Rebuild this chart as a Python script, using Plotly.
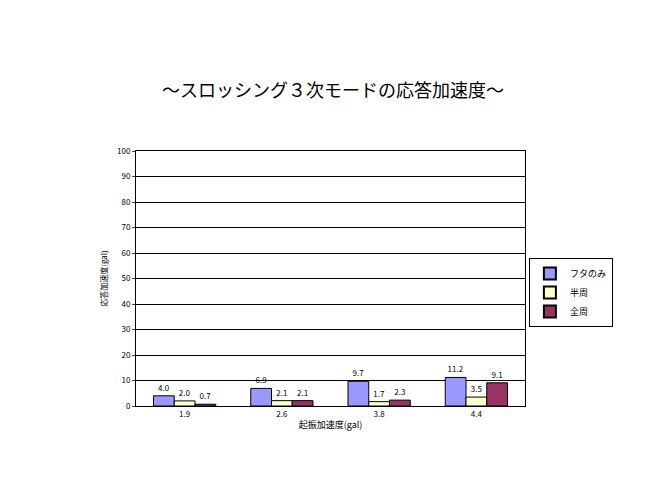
import plotly.graph_objects as go

categories = ["1.9", "2.6", "3.8", "4.4"]
series_names = ["フタのみ", "半周", "全周"]
futa = [4.0, 6.9, 9.7, 11.2]
hanshu = [2.0, 2.1, 1.7, 3.5]
zenshu = [0.7, 2.1, 2.3, 9.1]
colors = ["#9999FF", "#FFFFCC", "#993366"]

F = "Noto Sans CJK JP"
fig = go.Figure()
for name, vals, c in zip(series_names, [futa, hanshu, zenshu], colors):
    fig.add_bar(x=categories, y=vals, name=name, marker=dict(color=c, line=dict(color="black", width=1)),
                text=[f"{v:.1f}" for v in vals], textposition="outside",
                textfont=dict(size=8, color="black", family=F), cliponaxis=False)

fig.update_layout(
    width=650, height=488, paper_bgcolor="white", plot_bgcolor="white",
    margin=dict(l=128, r=133, t=143, b=90, autoexpand=False),
    barmode="group", bargap=0.36, bargroupgap=0.0,
    title=dict(text="～スロッシング３次モードの応答加速度～", x=0.5, xanchor="center", y=0.83, yanchor="middle",
               font=dict(size=18, family=F, color="black")),
    font=dict(family=F, size=8, color="black"),
    showlegend=True,
    legend=dict(x=1.01, y=0.58, xanchor="left", yanchor="top", bordercolor="black", borderwidth=1,
                font=dict(size=9, family=F), tracegroupgap=0, itemwidth=30, itemsizing="constant"),
    xaxis=dict(title=dict(text="起振加速度(gal)", font=dict(size=9), standoff=4), showline=True, linecolor="black",
               mirror=True, ticks="outside", ticklen=0, tickfont=dict(size=8)),
    yaxis=dict(title=dict(text="応答加速度(gal)", font=dict(size=8), standoff=8), range=[0, 100], dtick=10,
               showline=True, linecolor="black", mirror=True, showgrid=True, gridcolor="black", gridwidth=1,
               ticks="outside", ticklen=3, tickfont=dict(size=8)),
)
fig.write_html("out.html")
